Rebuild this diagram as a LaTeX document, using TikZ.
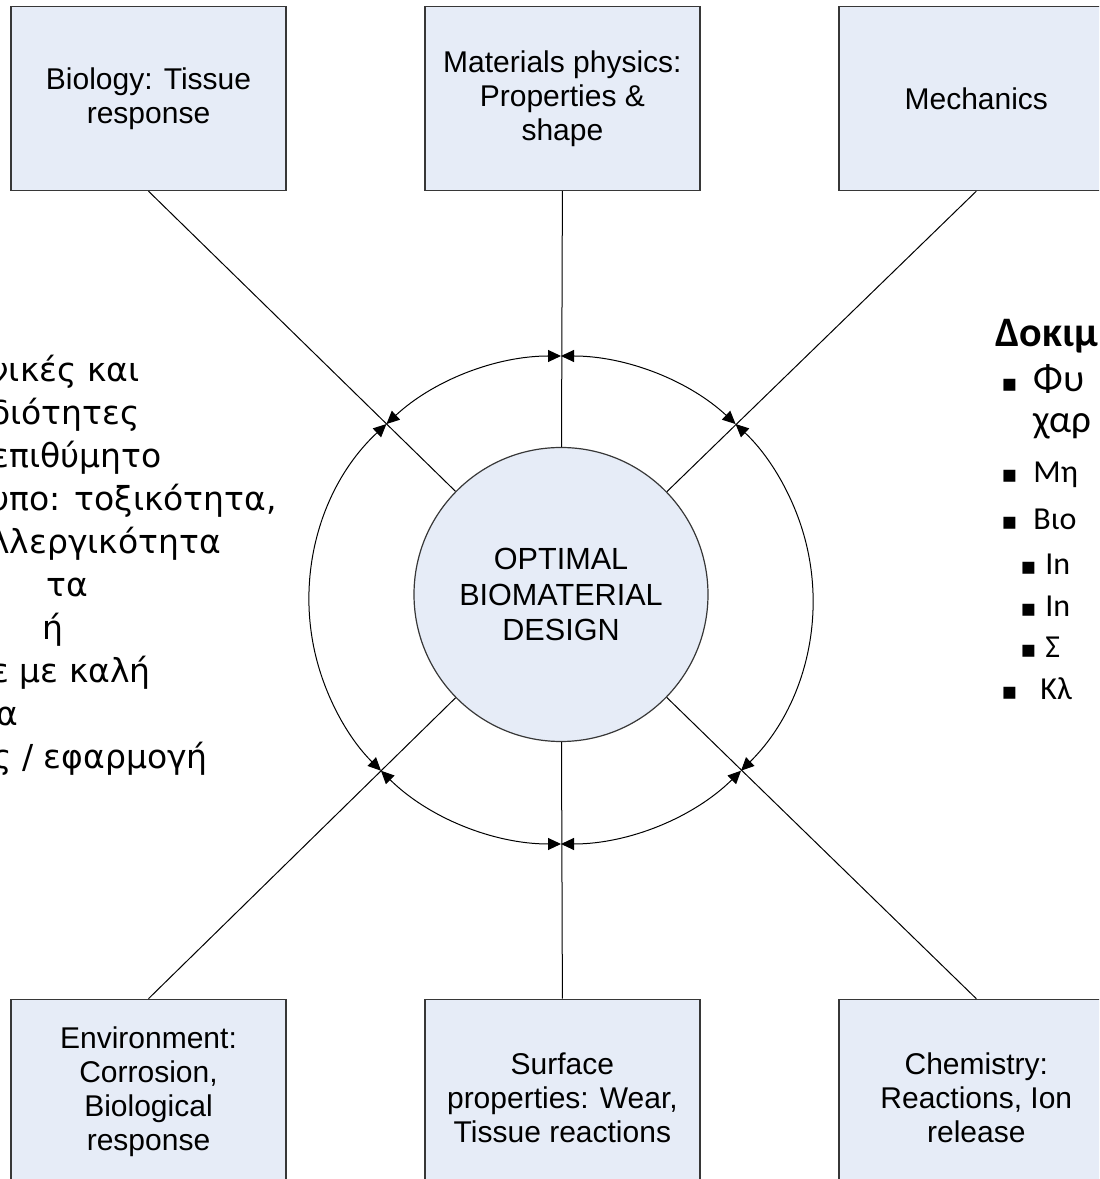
\documentclass[tikz,border=0pt]{standalone}
\usepackage{fontspec}
\setmainfont{Liberation Sans}
\newfontfamily\greekfont{Carlito}
\newfontfamily\leftfont{DejaVu Sans}
\newfontfamily\markfont{DejaVu Sans}
\usepackage{tikz}
\usetikzlibrary{arrows.meta, positioning}
\definecolor{boxfill}{RGB}{230,236,247}
\definecolor{boxline}{RGB}{55,55,55}
\tikzset{
  fieldbox/.style={rectangle,draw=boxline,fill=boxfill,line width=0.7pt,minimum width=137.5pt,minimum height=92pt,align=center,inner sep=2pt,font=\fontsize{15}{17}\selectfont},
  corenode/.style={circle,draw=boxline,fill=boxfill,line width=0.6pt,minimum size=147pt,inner sep=0pt,align=center,font=\fontsize{15.3}{17.75}\selectfont},
  spoke/.style={line width=0.5pt,color=black},
  ringarr/.style={{Triangle[length=6.5pt,width=6pt]}-{Triangle[length=6.5pt,width=6pt]},line width=0.5pt,color=black},
  greekline/.style={anchor=base west,inner sep=0pt,font=\leftfont\fontsize{16.5}{21.5}\selectfont},
  titleline/.style={anchor=base west,inner sep=0pt,font=\greekfont\bfseries\fontsize{21}{25}\selectfont},
  bigline/.style={anchor=base west,inner sep=0pt,font=\greekfont\fontsize{19.5}{23}\selectfont},
  smallline/.style={anchor=base west,inner sep=0pt,font=\greekfont\fontsize{16}{19}\selectfont},
  bulletmark/.style={anchor=base west,inner sep=0pt,font=\markfont\fontsize{12}{14}\selectfont}
}
\begin{document}
\begin{tikzpicture}[x=0.5pt,y=0.5pt]
  \clip (0,0) rectangle (1099,1179);

  %% centre and the six fields
  \node[corenode] (Core) at (561,584.5) {OPTIMAL\\BIOMATERIAL\\DESIGN};
  \node[fieldbox] (Bio) at (148.5,1080.5) {Biology: Tissue\\response};
  \node[fieldbox,right=68.75pt of Bio] (Phys) {Materials physics:\\Properties \&\\shape};
  \node[fieldbox,right=68.75pt of Phys] (Mech) {Mechanics};
  \node[fieldbox,below=403.75pt of Bio] (Env) {Environment:\\Corrosion,\\Biological\\response};
  \node[fieldbox,right=68.75pt of Env] (Surf) {\mbox{}\\Surface\\properties: Wear,\\Tissue reactions};
  \node[fieldbox,right=68.75pt of Surf] (Chem) {\mbox{}\\Chemistry:\\Reactions, Ion\\release};

  %% spokes
  \draw[spoke] (Bio.south) -- (Core);
  \draw[spoke] (Phys.south) -- (Core);
  \draw[spoke] (Mech.south) -- (Core);
  \draw[spoke] (Env.north) -- (Core);
  \draw[spoke] (Surf.north) -- (Core);
  \draw[spoke] (Chem.north) -- (Core);

  %% ring of arrows
  \coordinate (RingC) at (561,579);
  \foreach \a/\b in {46.15/90,90/133.85,133.85/224.4,224.4/270,270/315.6,315.6/406.15}
    \draw[ringarr] ([shift={(\a:126pt and 122pt)}]RingC) arc[start angle=\a,end angle=\b,x radius=126pt,y radius=122pt];

  %% left text (cut by the page edge)
  \node[greekline] (L1) at (-10,797) {νικές και};
  \node[greekline] (L2) at (-10,754) {διότητες};
  \node[greekline] (L3) at (-9,711) {επιθύμητο};
  \node[greekline] (L4) at (-10,668) {υπο: τοξικότητα,};
  \node[greekline] (L5) at (-10,625) {λλεργικότητα};
  \node[greekline] (L6) at (46,582) {τα};
  \node[greekline] (L7) at (42,539) {ή};
  \node[greekline] (L8) at (-9,496) {ε με καλή};
  \node[greekline] (L9) at (-4,453) {α};
  \node[greekline] (L10) at (-8,410) {ς / εφαρμογή};

  %% right text (cut by the page edge)
  \node[titleline] (R0) at (995,832) {Δοκιμ};
  \node[bulletmark] (M1) at (1001,787) {▪};
  \node[bigline] (R1) at (1033,787) {Φυ};
  \node[bigline] (R1b) at (1033,746) {χαρ};
  \node[bulletmark] (M2) at (1001,696) {▪};
  \node[smallline] (R2) at (1033,696) {Μη};
  \node[bulletmark] (M3) at (1001,649) {▪};
  \node[smallline] (R3) at (1033,649) {Βιο};
  \node[bulletmark] (M4) at (1020,604) {▪};
  \node[smallline] (R4) at (1045,604) {In};
  \node[bulletmark] (M5) at (1020,562) {▪};
  \node[smallline] (R5) at (1045,562) {In};
  \node[bulletmark] (M6) at (1020,521) {▪};
  \node[smallline] (R6) at (1045,521) {Σ};
  \node[bulletmark] (M7) at (1001,479) {▪};
  \node[smallline] (R7) at (1040,479) {Κλ};
\end{tikzpicture}
\end{document}
